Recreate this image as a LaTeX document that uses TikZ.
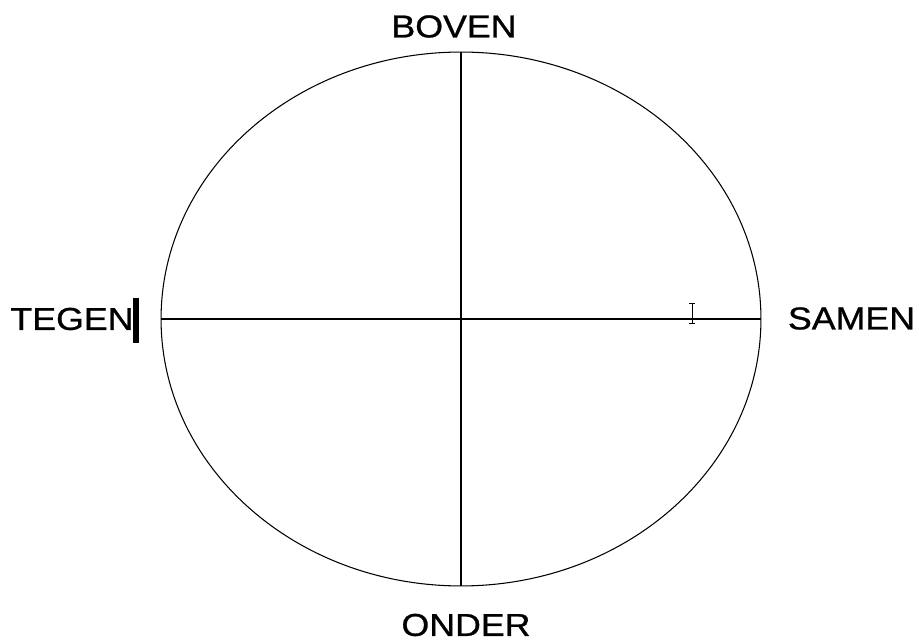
\documentclass[tikz,border=0pt]{standalone}
\usepackage{fontspec}
\setmainfont{Liberation Sans}
\newfontfamily\lblfont[FakeBold=0.8]{Liberation Sans}
\usetikzlibrary{shapes.geometric, positioning}

\begin{document}
\begin{tikzpicture}[x=0.02cm, y=-0.02cm, line width=0.6pt,
    lbl/.style={inner sep=0pt, xscale=1.13, font=\lblfont\fontsize{18}{21}\selectfont}]
    \useasboundingbox (0,0) rectangle (919,641);

    % Ellipse
    \node[draw, ellipse, inner sep=0pt, minimum width=12cm, minimum height=10.68cm] (ring) at (461,319) {};

    % Axes
    \draw (ring.west) -- (ring.east);
    \draw (ring.north) -- (ring.south);

    % Labels
    \node[lbl] (boven) at (454,26.5) {BOVEN};
    \node[lbl] (onder) at (466,625) {ONDER};
    \node[lbl] (tegen) at (72,319) {TEGEN};
    \node[lbl] (samen) at (851.5,318.5) {SAMEN};

    % Cursors
    \fill (133,298) rectangle (139,343);
    \draw[line width=0.5pt] (692,303) -- (692,323);
    \draw[line width=0.5pt] (689,303) -- (695,303);
    \draw[line width=0.5pt] (689,323) -- (695,323);
\end{tikzpicture}
\end{document}
